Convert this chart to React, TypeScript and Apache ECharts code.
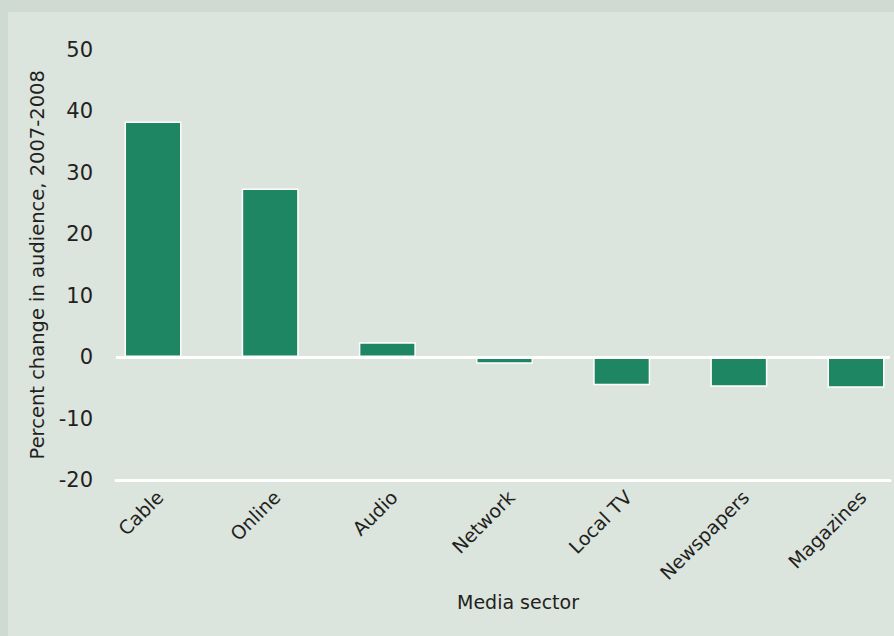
import React, { useEffect, useRef } from "react";
import * as echarts from "echarts";

const categories = ["Cable", "Online", "Audio", "Network", "Local TV", "Newspapers", "Magazines"];
const values = [38.3, 27.4, 2.4, -1.1, -4.6, -4.85, -5.0];
const yTicks = { min: -20, max: 50, interval: 10 };

export default function App() {
  const ref = useRef<HTMLDivElement>(null);
  useEffect(() => {
    if (!ref.current) return;
    const chart = echarts.init(ref.current, null, { renderer: "svg" });
    const font = "DejaVu Sans";
    chart.setOption({
      animation: false,
      backgroundColor: "#cfdad2",
      graphic: [
        {
          type: "rect",
          z: -10,
          silent: true,
          shape: { x: 8, y: 12, width: 886, height: 624 },
          style: { fill: "#dbe4dd" },
        },
        {
          type: "text",
          x: 518,
          y: 602,
          style: {
            text: "Media sector",
            fill: "#231f20",
            font: `19px "${font}"`,
            align: "center",
            verticalAlign: "middle",
          },
        },
      ],
      grid: { left: 116, right: 4, top: 49.5, bottom: 156, containLabel: false },
      xAxis: {
        type: "value",
        min: -0.316,
        max: 6.29,
        splitLine: { show: false },
        axisTick: { show: false },
        axisLine: { show: true, onZero: false, lineStyle: { color: "#ffffff", width: 3 } },
        axisLabel: {
          customValues: categories.map((_, i) => i),
          formatter: (v: number) => categories[Math.round(v)] ?? "",
          rotate: 45,
          margin: 7,
          verticalAlign: "top",
          color: "#231f20",
          fontFamily: font,
          fontSize: 19,
        },
      },
      yAxis: {
        type: "value",
        min: yTicks.min,
        max: yTicks.max,
        interval: yTicks.interval,
        name: "Percent change in audience, 2007-2008",
        nameLocation: "middle",
        nameGap: 66,
        nameTextStyle: { color: "#231f20", fontFamily: font, fontSize: 19.5 },
        axisLine: { show: false },
        axisTick: { show: false },
        splitLine: { show: false },
        axisLabel: { color: "#231f20", fontFamily: font, fontSize: 21, margin: 23 },
      },
      series: [
        {
          type: "bar",
          data: values.map((v, i) => [i, v]),
          barWidth: 57,
          itemStyle: { color: "#1f8663", borderColor: "#ffffff", borderWidth: 1.5 },
          markLine: {
            silent: true,
            symbol: "none",
            label: { show: false },
            lineStyle: { color: "#ffffff", width: 3, type: "solid" },
            data: [{ yAxis: 0 }],
          },
        },
      ],
    });
    return () => chart.dispose();
  }, []);
  return (
    <div
      ref={ref}
      style={{ position: "absolute", left: 0, top: 0, width: 894, height: 636 }}
    />
  );
}
